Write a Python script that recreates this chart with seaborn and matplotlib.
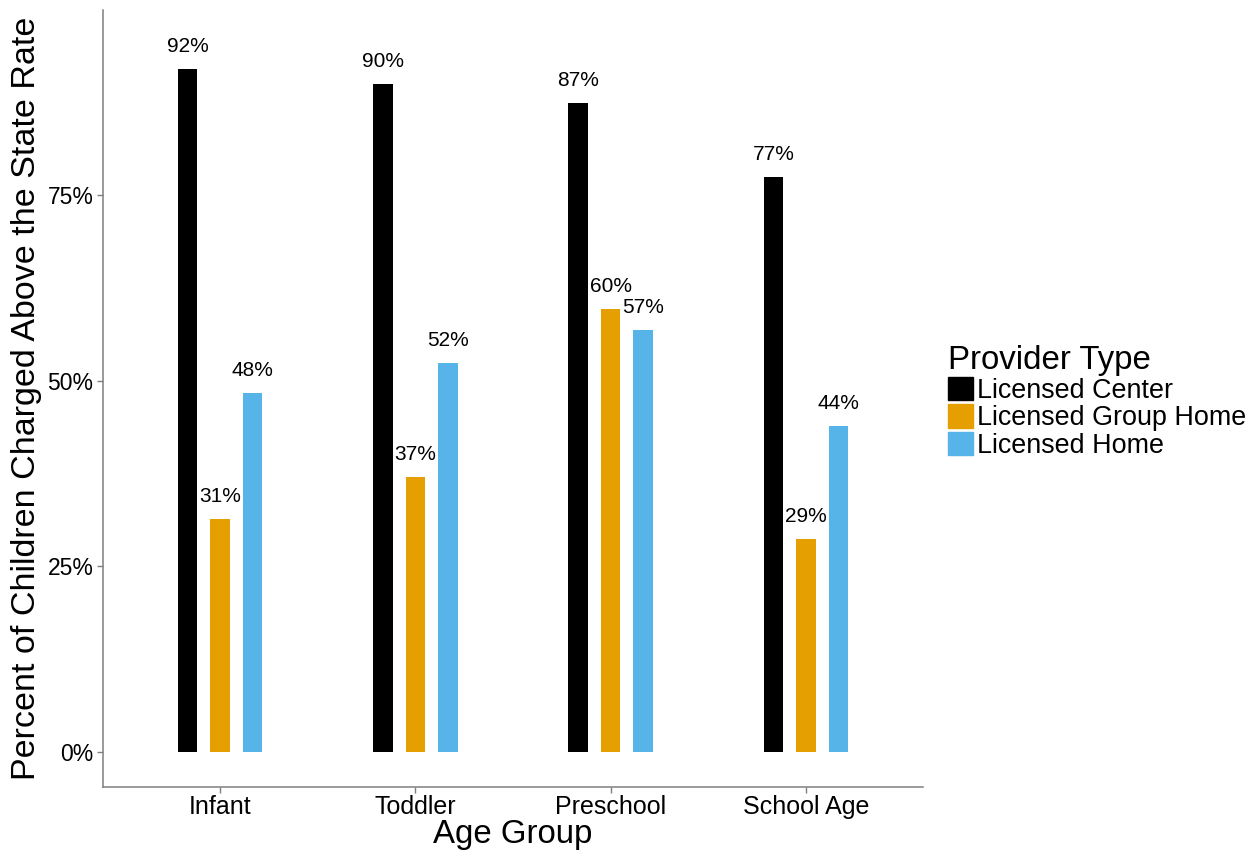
import pandas as pd
import numpy as np
import matplotlib
matplotlib.use("Agg")
import matplotlib.pyplot as plt
import matplotlib.ticker as mticker
import seaborn as sns

# data (percent of children charged above state rate)
age_groups = ["Infant", "Toddler", "Preschool", "School Age"]
providers = ["Licensed Center", "Licensed Group Home", "Licensed Home"]
center_pct = [91.9, 89.9, 87.4, 77.4]
group_home_pct = [31.4, 37.0, 59.6, 28.7]
home_pct = [48.3, 52.4, 56.8, 43.9]
provider_colors = ["#000000", "#E69F00", "#56B4E9"]

df = pd.DataFrame({
    "Age Group": age_groups * 3,
    "Provider Type": np.repeat(providers, len(age_groups)),
    "pct": center_pct + group_home_pct + home_pct,
})

sns.set_style("white")
plt.rcParams["font.family"] = ["Liberation Sans", "DejaVu Sans"]

fig = plt.figure(figsize=(12.55, 8.52), dpi=100)
ax = fig.add_axes([103 / 1255, 65 / 852, 820 / 1255, 777 / 852])

sns.barplot(data=df, x="Age Group", y="pct", hue="Provider Type",
            order=age_groups, hue_order=providers, palette=provider_colors,
            width=0.5, gap=0.4, saturation=1, errorbar=None, linewidth=0, ax=ax)

# value labels above each bar
for container in ax.containers:
    for bar in container:
        h = bar.get_height()
        ax.annotate(f"{h:.0f}%", (bar.get_x() + bar.get_width() / 2, h),
                    xytext=(0, 9.5), textcoords="offset points",
                    ha="center", va="bottom", fontsize=15, color="black")

ax.set_xlim(-0.6, 3.6)
ax.set_ylim(-4.7, 99.9)
ax.set_yticks([0, 25, 50, 75])
ax.yaxis.set_major_formatter(mticker.FuncFormatter(lambda v, _: f"{v:.0f}%"))
ax.set_xlabel("Age Group", fontsize=23.8, labelpad=0, color="black")
ax.set_ylabel("Percent of Children Charged Above the State Rate", fontsize=24.5,
              labelpad=4, color="black")
ax.tick_params(axis="x", labelsize=18, pad=2)
ax.tick_params(axis="y", labelsize=16.5, pad=3)
ax.tick_params(axis="both", length=4, width=1, color="#7f7f7f",
               direction="out", bottom=True, left=True, labelcolor="black")

sns.despine(ax=ax)
for side in ["left", "bottom"]:
    ax.spines[side].set_color("#7f7f7f")
    ax.spines[side].set_linewidth(1.1)

ax.get_legend().remove()
handles = [plt.Rectangle((0, 0), 1, 1, color=c) for c in provider_colors]
leg = fig.legend(handles, providers, title="Provider Type", loc="center left",
                 bbox_to_anchor=(937 / 1255, 1 - 402 / 852), frameon=False,
                 fontsize=19.4, title_fontsize=23.8, handlelength=0.95, handleheight=0.95,
                 handletextpad=0.15, labelspacing=0.02, borderaxespad=0)
leg._legend_box.align = "left"
for t in leg.get_texts():
    t.set_color("black")
leg.get_title().set_color("black")

fig.savefig("out.png", dpi=100)
